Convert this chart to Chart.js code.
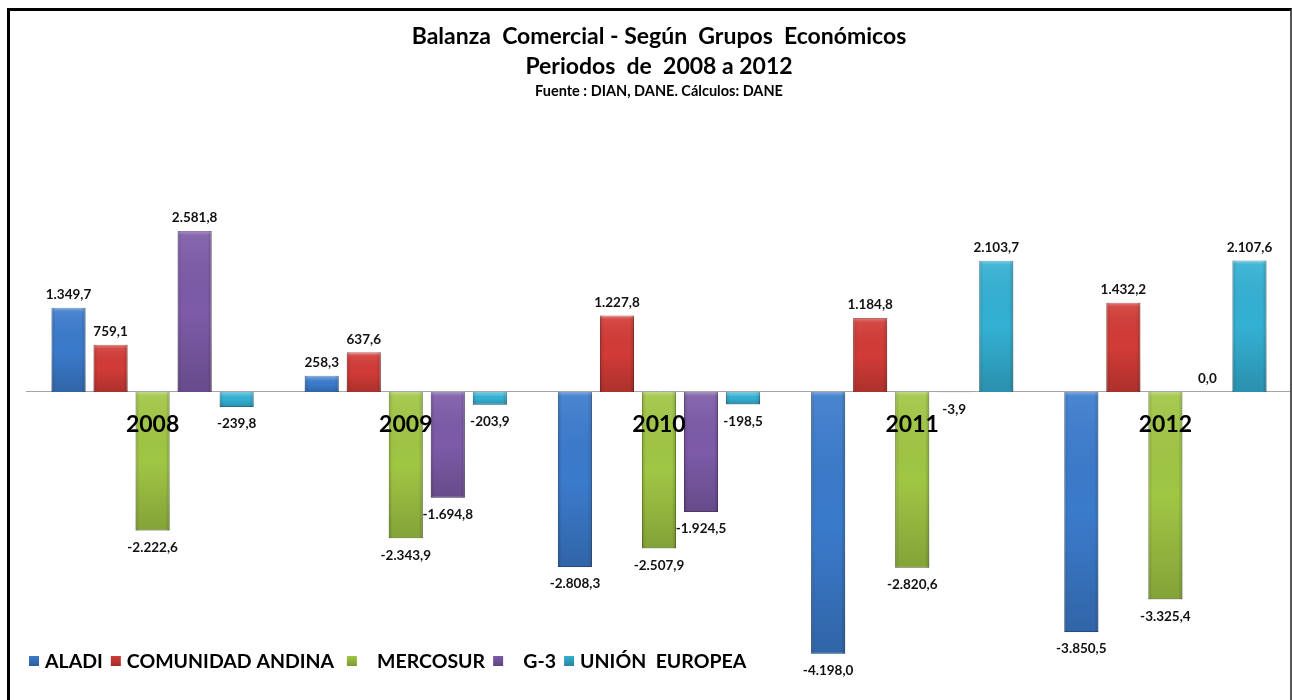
<!DOCTYPE html>
<html>
<head>
<meta charset="utf-8">
<title>Balanza Comercial - Según Grupos Económicos</title>
<script src="https://cdn.jsdelivr.net/npm/chart.js@4.4.1/dist/chart.umd.min.js"></script>
<style>
    html, body { margin: 0; padding: 0; background: #fff; }
    #wrap { position: relative; width: 1292px; height: 700px; overflow: hidden; }
    #frame {
        position: absolute; left: 7px; top: 8px; width: 1280px; height: 720px;
        border-left: 3px solid #000; border-top: 3px solid #000; border-right: 2px solid #555;
        pointer-events: none;
    }
</style>
</head>
<body>
<div id="wrap">
    <canvas id="balanzaChart" width="1292" height="700"></canvas>
    <div id="frame"></div>
</div>
<script>
// data (millones de dólares FOB)
const years = ['2008', '2009', '2010', '2011', '2012'];
const aladi = [1349.7, 258.3, -2808.3, -4198.0, -3850.5];
const comunidadAndina = [759.1, 637.6, 1227.8, 1184.8, 1432.2];
const mercosur = [-2222.6, -2343.9, -2507.9, -2820.6, -3325.4];
const g3 = [2581.8, -1694.8, -1924.5, -3.9, 0.0];
const unionEuropea = [-239.8, -203.9, -198.5, 2103.7, 2107.6];

const seriesNames = ['ALADI', 'COMUNIDAD ANDINA ', '   MERCOSUR', '   G-3', 'UNIÓN  EUROPEA'];
const seriesValues = [aladi, comunidadAndina, mercosur, g3, unionEuropea];
const fillColors = ['#3b7bcc', '#d23b36', '#a0c644', '#7d5ba8', '#33b0d3'];
const edgeColors = ['#2c5d99', '#a02d29', '#7a9a30', '#5e4482', '#26869f'];

const FONT = 'Lato';

// 1.349,7 style
function formatNum(v) {
    const parts = Math.abs(v).toFixed(1).split('.');
    const int = parts[0].replace(/\B(?=(\d{3})+(?!\d))/g, '.');
    return (v < 0 ? '-' : '') + int + ',' + parts[1];
}

// bevel-ish shading on top of each bar
const barShade = {
    id: 'barShade',
    afterDatasetsDraw(chart) {
        const ctx = chart.ctx;
        chart.data.datasets.forEach((ds, i) => {
            chart.getDatasetMeta(i).data.forEach(bar => {
                const left = bar.x - bar.width / 2;
                const top = Math.min(bar.y, bar.base);
                const h = Math.abs(bar.base - bar.y);
                if (h < 1) return;
                ctx.save();
                let g = ctx.createLinearGradient(0, top, 0, top + h);
                g.addColorStop(0, 'rgba(255,255,255,0.35)');
                g.addColorStop(Math.min(0.5, 4 / h), 'rgba(255,255,255,0.08)');
                g.addColorStop(0.5, 'rgba(0,0,0,0)');
                g.addColorStop(1, 'rgba(0,0,0,0.18)');
                ctx.fillStyle = g;
                ctx.fillRect(left, top, bar.width, h);
                g = ctx.createLinearGradient(left, 0, left + bar.width, 0);
                g.addColorStop(0, 'rgba(0,0,0,0.15)');
                g.addColorStop(0.12, 'rgba(0,0,0,0)');
                g.addColorStop(0.88, 'rgba(0,0,0,0)');
                g.addColorStop(1, 'rgba(0,0,0,0.18)');
                ctx.fillStyle = g;
                ctx.fillRect(left, top, bar.width, h);
                ctx.restore();
            });
        });
    }
};

// value labels above / below the bars
const valueLabels = {
    id: 'valueLabels',
    afterDatasetsDraw(chart) {
        const ctx = chart.ctx;
        ctx.save();
        ctx.font = 'bold 13.5px ' + FONT;
        ctx.fillStyle = '#111';
        ctx.textAlign = 'center';
        ctx.textBaseline = 'middle';
        chart.data.datasets.forEach((ds, i) => {
            chart.getDatasetMeta(i).data.forEach((bar, j) => {
                const v = ds.data[j];
                const y = v >= 0 ? bar.y - 13 : bar.y + 17;
                ctx.fillText(formatNum(v), bar.x, y);
            });
        });
        ctx.restore();
    }
};

// legend drawn inside the plot, bottom left
const bottomLegend = {
    id: 'bottomLegend',
    afterDraw(chart) {
        const ctx = chart.ctx;
        const y = 661;
        let x = 29;
        ctx.save();
        ctx.font = 'bold 19.5px ' + FONT;
        ctx.textBaseline = 'middle';
        ctx.textAlign = 'left';
        chart.data.datasets.forEach(ds => {
            const g = ctx.createLinearGradient(0, y - 5, 0, y + 5);
            g.addColorStop(0, ds.backgroundColor);
            g.addColorStop(1, ds.borderColor);
            ctx.fillStyle = g;
            ctx.fillRect(x, y - 5, 10, 10);
            x += 16;
            ctx.fillStyle = '#000';
            ctx.fillText(ds.label, x, y + 1);
            x += ctx.measureText(ds.label).width + 8;
        });
        ctx.restore();
    }
};

document.addEventListener('DOMContentLoaded', function() {
    const ctx = document.getElementById('balanzaChart').getContext('2d');

    new Chart(ctx, {
        type: 'bar',
        data: {
            labels: years,
            datasets: seriesNames.map((name, i) => ({
                label: name,
                data: seriesValues[i],
                backgroundColor: fillColors[i],
                borderColor: edgeColors[i],
                borderWidth: 1,
                categoryPercentage: 0.83,
                barPercentage: 0.81
            }))
        },
        options: {
            responsive: false,
            animation: false,
            events: [],
            layout: {
                padding: { left: 26, right: 0, top: 0, bottom: 27.4 }
            },
            scales: {
                x: {
                    position: { y: 0 },
                    offset: true,
                    grid: { display: false, drawTicks: false },
                    border: { display: true, color: '#a6a6a6', width: 1 },
                    ticks: {
                        z: 1,
                        color: '#000',
                        padding: 19,
                        font: { family: FONT, size: 23, weight: 'bold' }
                    }
                },
                y: {
                    display: false,
                    min: -4500,
                    max: 3000
                }
            },
            plugins: {
                legend: { display: false },
                tooltip: { enabled: false },
                title: {
                    display: true,
                    text: ['Balanza  Comercial - Según  Grupos  Económicos', 'Periodos  de  2008 a 2012'],
                    color: '#000',
                    font: { family: FONT, size: 23, weight: 'bold', lineHeight: 30 / 23 },
                    padding: { top: 22, bottom: 0 }
                },
                subtitle: {
                    display: true,
                    text: 'Fuente : DIAN, DANE. Cálculos: DANE',
                    color: '#000',
                    font: { family: FONT, size: 14.5, weight: 'bold', lineHeight: 1.2 },
                    padding: { top: 0.3, bottom: 105.2 }
                }
            }
        },
        plugins: [barShade, valueLabels, bottomLegend]
    });
});
</script>
</body>
</html>
